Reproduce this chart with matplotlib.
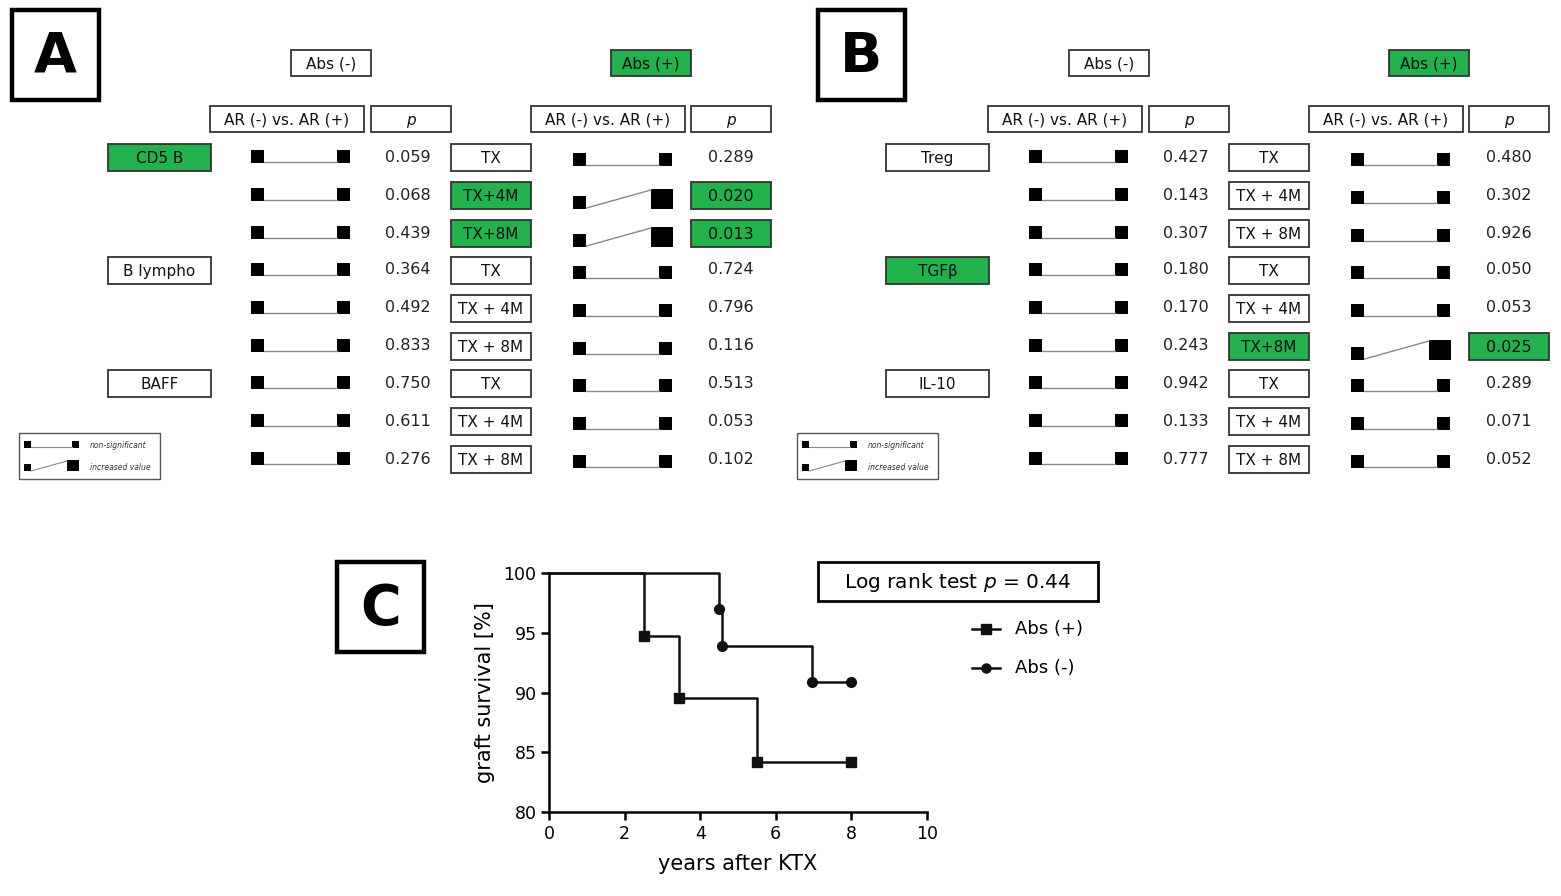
import matplotlib
matplotlib.use("Agg")
from matplotlib import pyplot as plt
from matplotlib.patches import Rectangle

# ---- data, panel A ----
markers_a = ["CD5 B", "B lympho", "BAFF"]
markers_a_green = [True, False, False]
times_a = ["TX", "TX+4M", "TX+8M", "TX", "TX + 4M", "TX + 8M", "TX", "TX + 4M", "TX + 8M"]
times_a_green = [False, True, True, False, False, False, False, False, False]
p_neg_a = ["0.059", "0.068", "0.439", "0.364", "0.492", "0.833", "0.750", "0.611", "0.276"]
p_pos_a = ["0.289", "0.020", "0.013", "0.724", "0.796", "0.116", "0.513", "0.053", "0.102"]
incr_pos_a = [False, True, True, False, False, False, False, False, False]

# ---- data, panel B ----
markers_b = ["Treg", "TGF\u03b2", "IL-10"]
markers_b_green = [False, True, False]
times_b = ["TX", "TX + 4M", "TX + 8M", "TX", "TX + 4M", "TX+8M", "TX", "TX + 4M", "TX + 8M"]
times_b_green = [False, False, False, False, False, True, False, False, False]
p_neg_b = ["0.427", "0.143", "0.307", "0.180", "0.170", "0.243", "0.942", "0.133", "0.777"]
p_pos_b = ["0.480", "0.302", "0.926", "0.050", "0.053", "0.025", "0.289", "0.071", "0.052"]
incr_pos_b = [False, False, False, False, False, True, False, False, False]

# ---- data, panel C (Kaplan-Meier steps) ----
abs_pos_t = [0, 2.5, 3.45, 5.5, 8.0]
abs_pos_s = [100, 94.7, 89.5, 84.2, 84.2]
abs_neg_t = [0, 4.5, 4.58, 6.95, 8.0]
abs_neg_s = [100, 97.0, 93.9, 90.9, 90.9]

GREEN = "#22b14c"
EDGE = "#333333"
FONT = "DejaVu Sans"

rows_y = [157, 195, 233, 270, 308, 346, 383, 421, 459]

fig = plt.figure(figsize=(15.61, 8.96), dpi=100)
ov = fig.add_axes([0, 0, 1, 1])
ov.set_xlim(0, 1561)
ov.set_ylim(896, 0)
ov.axis("off")


def box(x, y, w, h, text, green=False, size=11, style="normal", lw=1.3):
    ov.add_patch(Rectangle((x, y), w, h, fc=GREEN if green else "white", ec=EDGE, lw=lw))
    ov.text(x + w / 2, y + h / 2 + 1, text, ha="center", va="center", fontsize=size,
            family=FONT, style=style, color="#111111")


def glyph(xc_left, xc_right, y, increased, s=13, big=22):
    if not increased:
        ov.add_patch(Rectangle((xc_left - s / 2, y - s / 2), s, s, fc="black", ec="none"))
        ov.add_patch(Rectangle((xc_right - s / 2, y - s / 2), s, s, fc="black", ec="none"))
        ov.plot([xc_left + s / 2, xc_right - s / 2], [y + s / 2 - 1, y + s / 2 - 1],
                color="#888888", lw=1)
    else:
        yb = y + 11
        ov.add_patch(Rectangle((xc_left - s / 2, yb - s), s, s, fc="black", ec="none"))
        ov.add_patch(Rectangle((xc_right - 15, yb - 20), big, 20, fc="black", ec="none"))
        ov.plot([xc_left + s / 2, xc_right - 15], [yb - 1, yb - 19], color="#888888", lw=1)


def letter_box(x, y, w, h, letter):
    ov.add_patch(Rectangle((x, y), w, h, fc="white", ec="black", lw=3.2))
    ov.text(x + w / 2, y + h / 2 + 2, letter, ha="center", va="center", fontsize=40,
            family=FONT, weight="bold")


def legend_box(x0, y0):
    ov.add_patch(Rectangle((x0, y0), 141, 46, fc="white", ec="#555555", lw=1))
    ov.add_patch(Rectangle((x0 + 5, y0 + 8), 7, 7, fc="black", ec="none"))
    ov.add_patch(Rectangle((x0 + 53, y0 + 8), 7, 7, fc="black", ec="none"))
    ov.plot([x0 + 12, x0 + 53], [y0 + 14, y0 + 14], color="#888888", lw=0.8)
    ov.text(x0 + 71, y0 + 12, "non-significant", fontsize=5.5, va="center", family=FONT,
            style="italic", color="#333333")
    ov.add_patch(Rectangle((x0 + 5, y0 + 31), 7, 7, fc="black", ec="none"))
    ov.add_patch(Rectangle((x0 + 48, y0 + 27), 12, 11, fc="black", ec="none"))
    ov.plot([x0 + 12, x0 + 48], [y0 + 38, y0 + 28], color="#888888", lw=0.8)
    ov.text(x0 + 71, y0 + 35, "increased value", fontsize=5.5, va="center", family=FONT,
            style="italic", color="#333333")


def panel(dx, markers, markers_green, times, times_green, p_neg, p_pos, incr_pos):
    box(dx + 291, 50, 80, 26, "Abs (-)")
    box(dx + 611, 50, 80, 26, "Abs (+)", green=True)
    box(dx + 210, 106, 154, 26, "AR (-) vs. AR (+)")
    box(dx + 371, 106, 80, 26, "p", style="italic")
    box(dx + 531, 106, 154, 26, "AR (-) vs. AR (+)")
    box(dx + 691, 106, 80, 26, "p", style="italic")
    for k, name in enumerate(markers):
        box(dx + 108, rows_y[3 * k] - 13, 103, 27, name, green=markers_green[k])
    for i, y in enumerate(rows_y):
        glyph(dx + 258, dx + 344, y, False)
        ov.text(dx + 408, y, p_neg[i], ha="center", va="center", fontsize=11.5,
                family=FONT, color="#222222")
        box(dx + 451, y - 13, 80, 27, times[i], green=times_green[i])
        glyph(dx + 580, dx + 666, y + 3, incr_pos[i])
        if incr_pos[i]:
            box(dx + 691, y - 13, 80, 27, p_pos[i], green=True, size=11.5)
        else:
            ov.text(dx + 731, y, p_pos[i], ha="center", va="center", fontsize=11.5,
                    family=FONT, color="#222222")
    legend_box(dx + 19, 433)


letter_box(12, 10, 87, 90, "A")
panel(0, markers_a, markers_a_green, times_a, times_a_green, p_neg_a, p_pos_a, incr_pos_a)
letter_box(818, 10, 87, 90, "B")
panel(778, markers_b, markers_b_green, times_b, times_b_green, p_neg_b, p_pos_b, incr_pos_b)

# ---- panel C ----
letter_box(337, 562, 87, 90, "C")
ov.add_patch(Rectangle((818, 562), 280, 39, fc="white", ec="black", lw=2))
ov.text(958, 582, "Log rank test $p$ = 0.44", ha="center", va="center", fontsize=14.5,
        family=FONT)

ax = fig.add_axes([549 / 1561, 84 / 896, 378 / 1561, 239 / 896])
ax.patch.set_alpha(0)
ax.step(abs_pos_t, abs_pos_s, where="post", color="#111111", lw=1.8)
ax.plot(abs_pos_t[1:], abs_pos_s[1:], "s", color="#111111", ms=7.5, label="Abs (+)")
ax.step(abs_neg_t, abs_neg_s, where="post", color="#111111", lw=1.8)
ax.plot(abs_neg_t[1:], abs_neg_s[1:], "o", color="#111111", ms=7, label="Abs (-)")
ax.set_xlim(0, 10)
ax.set_ylim(80, 100)
ax.set_xticks([0, 2, 4, 6, 8, 10])
ax.set_yticks([80, 85, 90, 95, 100])
ax.spines["top"].set_visible(False)
ax.spines["right"].set_visible(False)
for s in ["left", "bottom"]:
    ax.spines[s].set_linewidth(1.8)
ax.tick_params(direction="out", length=6, width=1.8, labelsize=12.5, pad=3)
for t in ax.get_xticklabels() + ax.get_yticklabels():
    t.set_family(FONT)
ax.set_xlabel("years after KTX", fontsize=15, family=FONT, labelpad=8)
ax.set_ylabel("graft survival [%]", fontsize=15, family=FONT, labelpad=6)
for ln in ax.lines:
    ln.set_clip_on(False)

# legend drawn by hand to sit where it does in the original
ov.plot([972, 1000], [629, 629], color="#111111", lw=1.8)
ov.plot([986], [629], "s", color="#111111", ms=6.5)
ov.text(1015, 629, "Abs (+)", va="center", fontsize=13, family=FONT)
ov.plot([972, 1000], [668, 668], color="#111111", lw=1.8)
ov.plot([986], [668], "o", color="#111111", ms=6.5)
ov.text(1015, 668, "Abs (-)", va="center", fontsize=13, family=FONT)

fig.savefig("out.png", dpi=100)
